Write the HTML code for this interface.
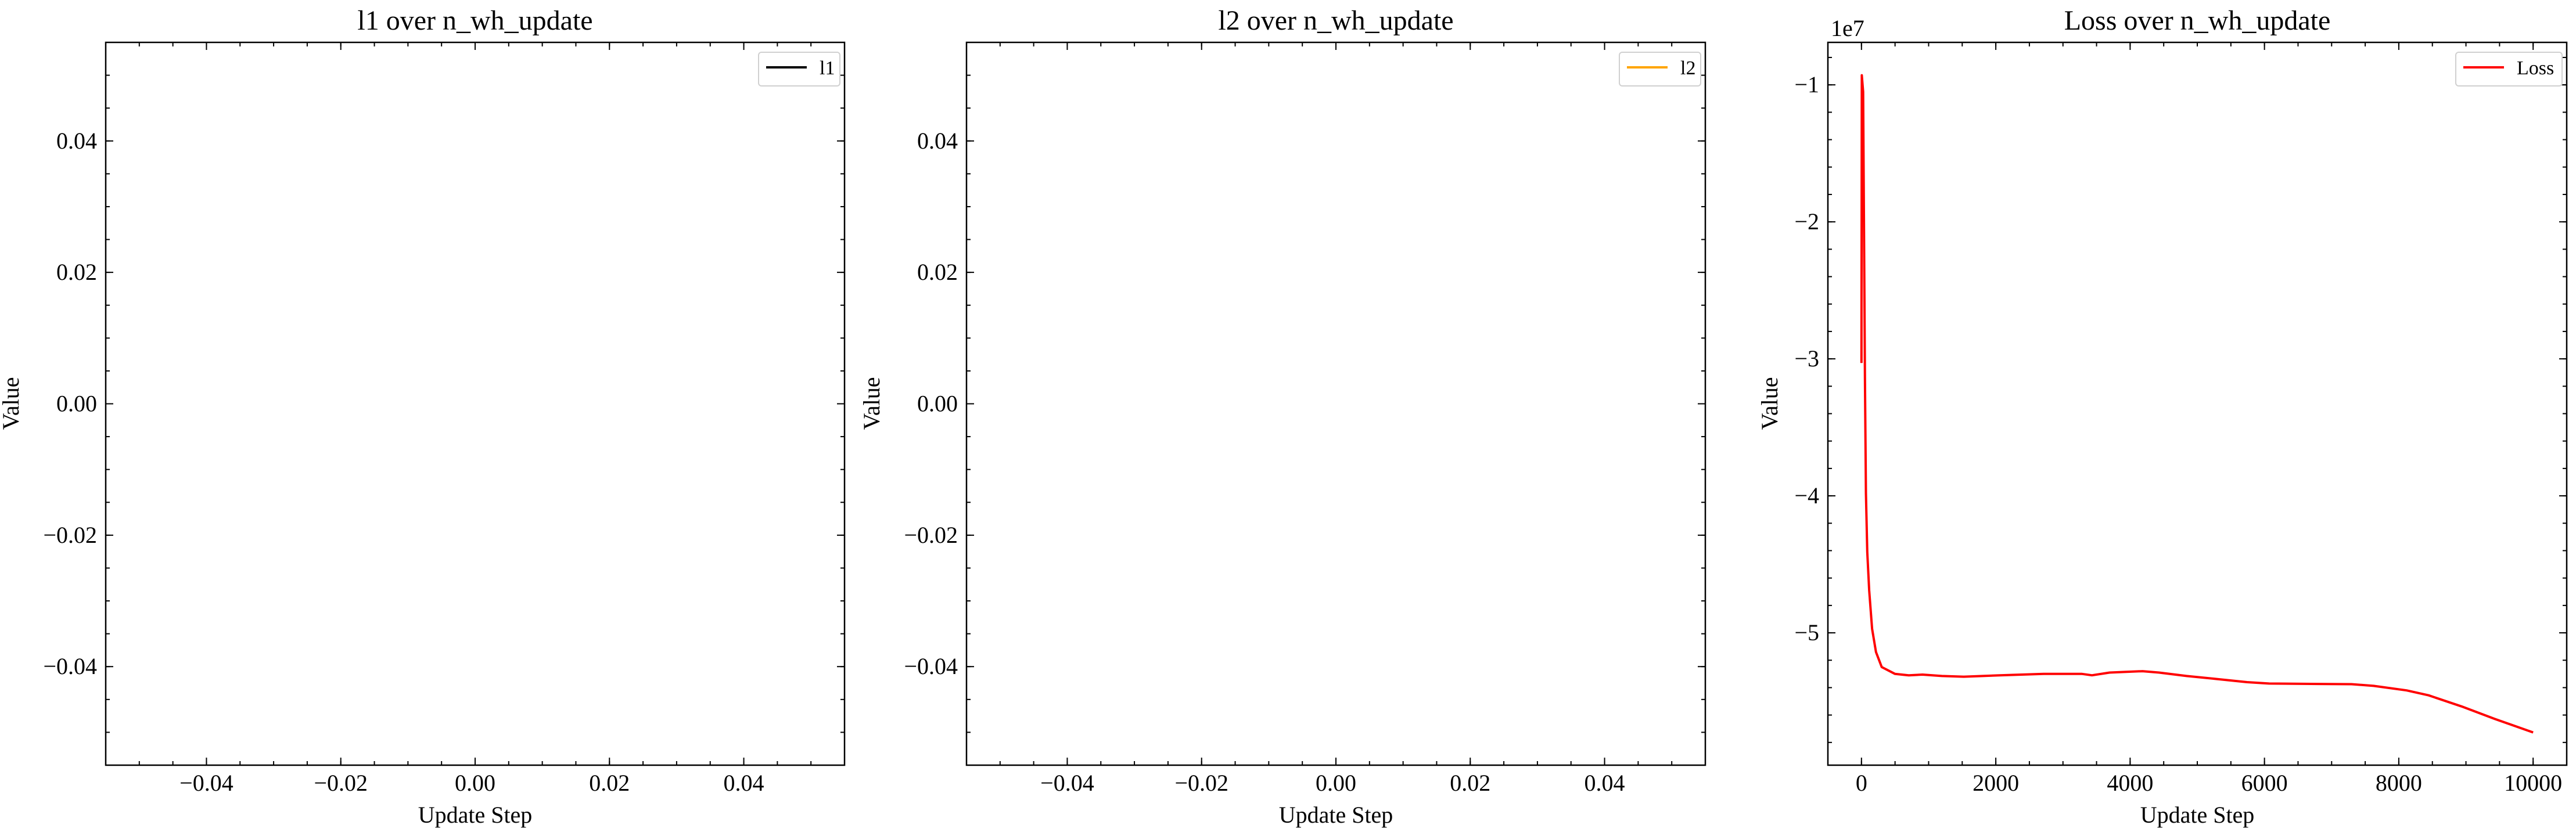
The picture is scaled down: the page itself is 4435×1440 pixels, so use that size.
<!DOCTYPE html>
<html><head><meta charset="utf-8"><style>
html,body{margin:0;padding:0;background:#fff;}
svg{display:block;font-family:"Liberation Serif","DejaVu Serif",serif;}
</style></head><body>
<svg id="fig" width="4435" height="1440" viewBox="0 0 4435 1440" xmlns="http://www.w3.org/2000/svg"></svg>
<script>
// Loss series data
const lossSteps = [0,5,25,52,66,86,115,158,216,302,500,704,909,1196,1523,2056,2711,3284,3432,3694,4185,4431,4840,5250,5741,6069,6806,7297,7625,8116,8444,8935,9427,10000];
const lossValues = [-3.03,-0.93,-1.05,-3.14,-3.98,-4.41,-4.69,-4.97,-5.14,-5.25,-5.30,-5.31,-5.305,-5.315,-5.32,-5.31,-5.30,-5.30,-5.31,-5.29,-5.28,-5.29,-5.315,-5.335,-5.36,-5.37,-5.373,-5.375,-5.387,-5.42,-5.456,-5.537,-5.628,-5.727];
const emptyXTicks = [-0.04,-0.02,0.00,0.02,0.04];
const emptyXTickLabels = ["\u22120.04","\u22120.02","0.00","0.02","0.04"];
const emptyYTicks = [-0.04,-0.02,0.00,0.02,0.04];
const emptyYTickLabels = ["\u22120.04","\u22120.02","0.00","0.02","0.04"];
const lossXTicks = [0,2000,4000,6000,8000,10000];
const lossXTickLabels = ["0","2000","4000","6000","8000","10000"];
const lossYTicks = [-1,-2,-3,-4,-5];
const lossYTickLabels = ["\u22121","\u22122","\u22123","\u22124","\u22125"];

const NS="http://www.w3.org/2000/svg";
const svg=document.getElementById('fig');
function mk(tag,attrs,parent){const e=document.createElementNS(NS,tag);for(const k in attrs)e.setAttribute(k,attrs[k]);(parent||svg).appendChild(e);return e;}

const TOP=73,BOT=1318,W=1272;
function panel(cfg){
  const g=mk('g',{});
  
  
  const L=cfg.left,R=L+W;
  const sx=v=>L+(v-cfg.xmin)/(cfg.xmax-cfg.xmin)*W;
  const sy=v=>BOT-(v-cfg.ymin)/(cfg.ymax-cfg.ymin)*(BOT-TOP);
  // minor ticks
  for(let v=Math.ceil(cfg.xmin/cfg.xminor)*cfg.xminor;v<=cfg.xmax+1e-9;v+=cfg.xminor){
    const x=sx(v);
    const t1=mk('line',{x1:x,x2:x,y1:BOT,y2:BOT-7,stroke:'#000','stroke-width':2},g);
    
    const t2=mk('line',{x1:x,x2:x,y1:TOP,y2:TOP+7,stroke:'#000','stroke-width':2},g);
    
  }
  for(let v=Math.ceil(cfg.ymin/cfg.yminor)*cfg.yminor;v<=cfg.ymax+1e-9;v+=cfg.yminor){
    const y=sy(v);
    const t1=mk('line',{x1:L,x2:L+7,y1:y,y2:y,stroke:'#000','stroke-width':2},g);
    
    const t2=mk('line',{x1:R,x2:R-7,y1:y,y2:y,stroke:'#000','stroke-width':2},g);
    
  }
  cfg.xticks.forEach((v,i)=>{
    const x=sx(v);
    const a=mk('line',{x1:x,x2:x,y1:BOT,y2:BOT-13,stroke:'#000','stroke-width':2},g);
    
    const b=mk('line',{x1:x,x2:x,y1:TOP,y2:TOP+13,stroke:'#000','stroke-width':2},g);
    
    const t=mk('text',{x:x,y:1362,'font-size':40,'text-anchor':'middle'},g);
    
    t.textContent=cfg.xlabels[i];
  });
  cfg.yticks.forEach((v,i)=>{
    const y=sy(v);
    const a=mk('line',{x1:L,x2:L+13,y1:y,y2:y,stroke:'#000','stroke-width':2},g);
    
    const b=mk('line',{x1:R,x2:R-13,y1:y,y2:y,stroke:'#000','stroke-width':2},g);
    
    const t=mk('text',{x:L-15,y:y+13,'font-size':40,'text-anchor':'end'},g);
    
    t.textContent=cfg.ylabels[i];
  });
  if(cfg.xs){
    const d=cfg.xs.map((v,i)=>(i?'L':'M')+sx(v).toFixed(1)+','+sy(cfg.ys[i]).toFixed(1)).join(' ');
    const p=mk('path',{d:d,fill:'none',stroke:cfg.color,'stroke-width':4,'stroke-linejoin':'round'},g);
    
  }
  const fr=mk('rect',{x:L,y:TOP,width:W,height:BOT-TOP,fill:'none',stroke:'#000','stroke-width':2.5},g);
  
  const ti=mk('text',{x:L+W/2,y:51,'font-size':48,'text-anchor':'middle'},g);
  
  ti.textContent=cfg.title;
  const xl=mk('text',{x:L+W/2,y:1417,'font-size':40,'text-anchor':'middle'},g);
  
  xl.textContent='Update Step';
  const ylx=cfg.ylabelX;
  const yl=mk('text',{x:ylx,y:695,'font-size':40,'text-anchor':'middle',transform:`rotate(-90 ${ylx} 695)`},g);
  
  yl.textContent='Value';
  if(cfg.offset){
    const o=mk('text',{x:L+5,y:62,'font-size':40},g);
    
    o.textContent=cfg.offset;
  }
  // legend
  const lg=mk('g',{},g);
  
  const lw=cfg.legendW;
  mk('rect',{x:R-8-lw,y:90,width:lw,height:58,rx:5,fill:'#fff',stroke:'#d0d0d0','stroke-width':2},lg);
  const ll=mk('line',{x1:R-8-lw+13,x2:R-8-lw+83,y1:116,y2:116,stroke:cfg.color,'stroke-width':4},lg);
  
  const lt=mk('text',{x:R-8-lw+105,y:128,'font-size':34},lg);
  
  lt.textContent=cfg.legend;
}
const emptyCfg={xmin:-0.055,xmax:0.055,ymin:-0.055,ymax:0.055,xminor:0.005,yminor:0.005,
  xticks:emptyXTicks,xlabels:emptyXTickLabels,yticks:emptyYTicks,ylabels:emptyYTickLabels};
panel(Object.assign({},emptyCfg,{name:'l1-panel',left:182,title:'l1 over n_wh_update',color:'#000',legend:'l1',legendW:140,ylabelX:32}));
panel(Object.assign({},emptyCfg,{name:'l2-panel',left:1664,title:'l2 over n_wh_update',color:'#FFA500',legend:'l2',legendW:140,ylabelX:1514}));
panel({name:'loss-panel',left:3147,xmin:-500,xmax:10500,ymin:-5.966,ymax:-0.69,xminor:500,yminor:0.2,
  xticks:lossXTicks,xlabels:lossXTickLabels,yticks:lossYTicks,ylabels:lossYTickLabels,
  xs:lossSteps,ys:lossValues,title:'Loss over n_wh_update',color:'#FF0000',legend:'Loss',legendW:183,ylabelX:3060,offset:'1e7'});
</script>
</body></html>
